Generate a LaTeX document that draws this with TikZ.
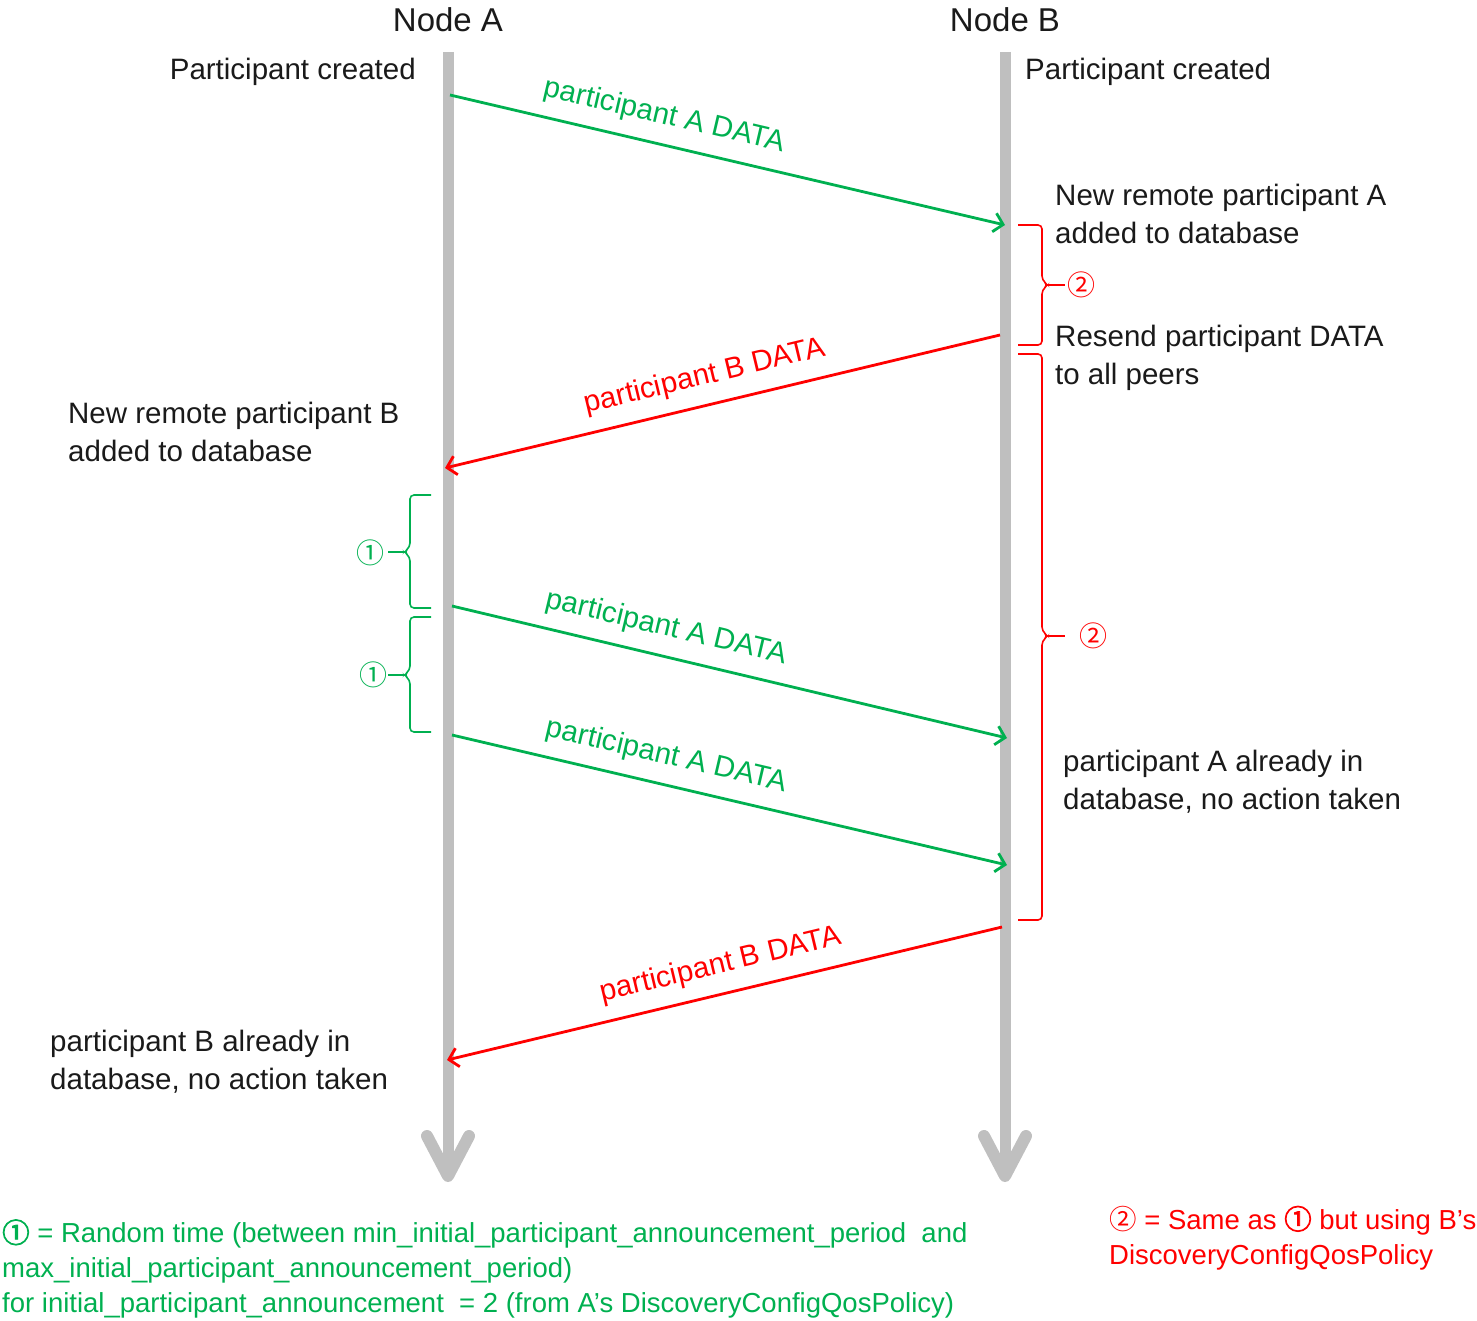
\documentclass[tikz,border=0pt]{standalone}
\usepackage{fontspec}
\setmainfont{Liberation Sans}
\newfontfamily\cjk{Noto Sans CJK JP}
\newfontfamily\cjkb[FakeBold=3]{Noto Sans CJK JP}
\usetikzlibrary{arrows.meta}
\definecolor{mgreen}{HTML}{00B050}
\definecolor{mred}{HTML}{FF0000}
\definecolor{lgray}{HTML}{BFBFBF}
\definecolor{tblack}{HTML}{1A1A1A}
\begin{document}
\begin{tikzpicture}[x=1pt,y=-1pt,
  life/.style={draw=lgray, line width=11pt},
  lifehead/.style={draw=lgray, line width=12pt, line cap=round, line join=round},
  msg/.style={line width=2.8pt, -{Straight Barb[length=9pt,width=19pt]}},
  greenmsg/.style={msg, draw=mgreen},
  redmsg/.style={msg, draw=mred},
  lbl/.style={sloped, anchor=south, inner xsep=0pt, inner ysep=13pt, font=\fontsize{29.5}{34}\selectfont},
  txt/.style={font=\fontsize{29.5}{38}\selectfont, align=left, text=tblack, inner sep=0pt},
  title/.style={font=\fontsize{33}{40}\selectfont, text=tblack, inner sep=0pt},
  bracegreen/.style={draw=mgreen, line width=1.6pt, rounded corners=4pt},
  bracered/.style={draw=mred, line width=1.6pt, rounded corners=4pt},
  circnum/.style={font=\cjk\fontsize{28}{30}\selectfont, inner sep=0pt},
  legend/.style={font=\fontsize{27.5}{35}\selectfont, align=left, inner sep=0pt}
]
\useasboundingbox (0,0) rectangle (1477,1321);

% titles
\node[title] (nA) at (448,20) {Node A};
\node[title] (nB) at (1005,20) {Node B};

% lifelines
\coordinate (Atop) at (448,52);
\coordinate (Abot) at (448,1176);
\coordinate (Btop) at (1005,52);
\coordinate (Bbot) at (1005,1176);
\draw[life] (Atop) -- (Abot);
\draw[life] (Btop) -- (Bbot);
\draw[lifehead] ([shift={(-21,-40)}]Abot) -- (Abot) -- ([shift={(21,-40)}]Abot);
\draw[lifehead] ([shift={(-21,-40)}]Bbot) -- (Bbot) -- ([shift={(21,-40)}]Bbot);

% message end points
\coordinate (a1) at (450,95);   \coordinate (b1) at (1005,225);
\coordinate (b2) at (1000,335); \coordinate (a2) at (445,468);
\coordinate (a3) at (452,606);  \coordinate (b3) at (1007,738);
\coordinate (a4) at (452,735);  \coordinate (b4) at (1007,865);
\coordinate (b5) at (1002,927); \coordinate (a5) at (447,1060);

\draw[greenmsg] (a1) -- node[lbl, pos=0.375, text=mgreen] (l1) {participant A DATA} (b1);
\draw[redmsg] (b2) -- node[lbl, pos=0.52, text=mred] (l2) {participant B DATA} (a2);
\draw[greenmsg] (a3) -- node[lbl, pos=0.375, text=mgreen] (l3) {participant A DATA} (b3);
\draw[greenmsg] (a4) -- node[lbl, pos=0.375, text=mgreen] (l4) {participant A DATA} (b4);
\draw[redmsg] (b5) -- node[lbl, pos=0.495, text=mred] (l5) {participant B DATA} (a5);

% texts
\node[txt, anchor=east] (pcA) at (416,72) {Participant created};
\node[txt, anchor=west] (pcB) at (1025,72) {Participant created};
\node[txt, anchor=west] (newA) at (1055,214) {New remote participant A\\added to database};
\node[txt, anchor=west] (resend) at (1055,358) {Resend participant DATA\\to all peers};
\node[txt, anchor=west] (newB) at (68,432) {New remote participant B\\added to database};
\node[txt, anchor=west] (alrA) at (1063,782) {participant A already in\\database, no action taken};
\node[txt, anchor=west] (alrB) at (50,1062) {participant B already in\\database, no action taken};

% red braces
\draw[bracered] (1018,225) -- (1042,225) -- (1042,280) -- (1048,285) -- (1042,290) -- (1042,345) -- (1018,345);
\draw[draw=mred, line width=1.6pt] (1047,285) -- (1065,285);
\node[circnum, text=mred] (c2a) at (1081,285) {②};
\draw[bracered] (1018,354) -- (1042,354) -- (1042,631) -- (1048,636) -- (1042,641) -- (1042,920) -- (1018,920);
\draw[draw=mred, line width=1.6pt] (1047,636) -- (1065,636);
\node[circnum, text=mred] (c2b) at (1093,636) {②};

% green braces
\draw[bracegreen] (431,495) -- (410,495) -- (410,547) -- (404,552) -- (410,557) -- (410,608) -- (431,608);
\draw[draw=mgreen, line width=1.6pt] (405,552) -- (388,552);
\node[circnum, text=mgreen] (c1a) at (370,553) {①};
\draw[bracegreen] (431,617) -- (410,617) -- (410,670) -- (404,675) -- (410,680) -- (410,732) -- (431,732);
\draw[draw=mgreen, line width=1.6pt] (405,675) -- (388,675);
\node[circnum, text=mgreen] (c1b) at (373,675) {①};

% legends
\node[legend, text=mgreen, anchor=west] (leg1) at (2,1269)
  {{\cjkb ①} = Random time (between min\_initial\_participant\_announcement\_period~ and\\
   max\_initial\_participant\_announcement\_period)\\
   for initial\_participant\_announcement~ = 2 (from A’s DiscoveryConfigQosPolicy)};
\node[legend, text=mred, anchor=west] (leg2) at (1109,1238)
  {{\cjk ②} = Same as {\cjkb ①} but using B’s\\DiscoveryConfigQosPolicy};
\end{tikzpicture}
\end{document}
